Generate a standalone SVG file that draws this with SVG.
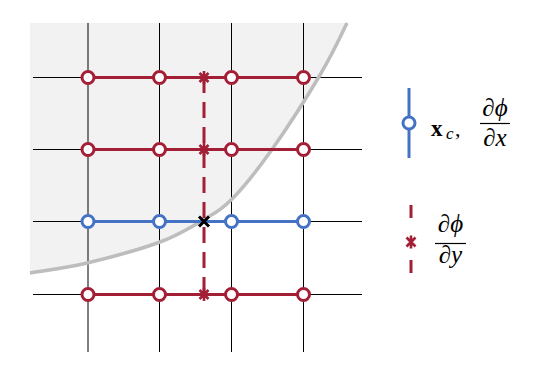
<svg xmlns="http://www.w3.org/2000/svg" width="538" height="378" viewBox="0 0 538 378">
<style>
.grid{stroke:#000;stroke-width:1;fill:none}
.red{stroke:#A31F36;stroke-width:3;fill:none}
.blue{stroke:#4472C4;stroke-width:3;fill:none}
.cr{stroke:#A31F36;stroke-width:3;fill:#fff}
.cb{stroke:#4472C4;stroke-width:3;fill:#fff}
.ast{stroke:#A31F36;stroke-width:2.6;fill:none}
.tx{font-family:"Liberation Serif","DejaVu Serif",serif;fill:#000}
</style>
<defs>
<g id="star"><path class="ast" d="M-4.5,-4.5L4.5,4.5M4.5,-4.5L-4.5,4.5M0,-6.5L0,6.5"/></g>
</defs>
<g id="region">
<path d="M30,273 C39.5,271.3 65.3,268.2 87,263 C108.7,257.8 140.7,249.2 160,242 C179.3,234.8 190.8,227.3 203,220 C215.2,212.7 221.3,210 233,198 C244.7,186 258.5,168.5 273,148 C287.5,127.5 307.7,95.7 320,75 C332.3,54.3 342.5,32.5 347,23 L30,23 Z" fill="#f2f2f2"/>
</g>
<g id="grid">
<path class="grid" d="M88,23V352M159.5,23V352M231.5,23V352M303.5,23V352M33,77.5H362M33,149.5H362M33,221.5H362M33,294.5H362"/>
</g>
<g id="boundary">
<path d="M30,273 C39.5,271.3 65.3,268.2 87,263 C108.7,257.8 140.7,249.2 160,242 C179.3,234.8 190.8,227.3 203,220 C215.2,212.7 221.3,210 233,198 C244.7,186 258.5,168.5 273,148 C287.5,127.5 307.7,95.7 320,75 C332.3,54.3 342.5,32.5 347,23" fill="none" stroke="#bdbdbd" stroke-width="3.5"/>
</g>
<g id="connectors">
<path class="red" d="M88,77.5H303.5M88,149.5H303.5M88,294.5H303.5"/>
<path class="blue" d="M88,221.5H303.5"/>
<path class="red" d="M204,77V294" stroke-dasharray="16 9"/>
</g>
<g id="row1">
<circle class="cr" cx="88" cy="77.5" r="6"/><circle class="cr" cx="159.5" cy="77.5" r="6"/><circle class="cr" cx="231.5" cy="77.5" r="6"/><circle class="cr" cx="303.5" cy="77.5" r="6"/>
<use href="#star" x="204" y="77.5"/>
</g>
<g id="row2">
<circle class="cr" cx="88" cy="149.5" r="6"/><circle class="cr" cx="159.5" cy="149.5" r="6"/><circle class="cr" cx="231.5" cy="149.5" r="6"/><circle class="cr" cx="303.5" cy="149.5" r="6"/>
<use href="#star" x="204" y="149.5"/>
</g>
<g id="row3">
<circle class="cb" cx="88" cy="221.5" r="6"/><circle class="cb" cx="159.5" cy="221.5" r="6"/><circle class="cb" cx="231.5" cy="221.5" r="6"/><circle class="cb" cx="303.5" cy="221.5" r="6"/>
<path d="M199,216.5L209,226.5M209,216.5L199,226.5" stroke="#000" stroke-width="3"/>
</g>
<g id="row4">
<circle class="cr" cx="88" cy="294.5" r="6"/><circle class="cr" cx="159.5" cy="294.5" r="6"/><circle class="cr" cx="231.5" cy="294.5" r="6"/><circle class="cr" cx="303.5" cy="294.5" r="6"/>
<use href="#star" x="204" y="294.5"/>
</g>
<g id="legend-x">
<path class="blue" d="M409,88V158"/>
<circle class="cb" cx="409" cy="123" r="6"/>
<text class="tx" x="431" y="136" font-size="23" font-weight="bold">x</text>
<text class="tx" x="446" y="139" font-size="17" font-style="italic">c</text>
<text class="tx" x="455" y="136" font-size="22">,</text>
<text class="tx" x="495" y="116" font-size="25" font-style="italic" text-anchor="middle">∂ϕ</text>
<path d="M480,123.5H510" stroke="#000" stroke-width="1.2"/>
<text class="tx" x="495" y="146" font-size="25" font-style="italic" text-anchor="middle">∂x</text>
</g>
<g id="legend-y">
<path class="red" d="M411,205V218M411,260V273"/>
<use href="#star" x="411" y="242"/>
<text class="tx" x="450.5" y="232" font-size="25" font-style="italic" text-anchor="middle">∂ϕ</text>
<path d="M435,243.5H466" stroke="#000" stroke-width="1.2"/>
<text class="tx" x="450.5" y="263" font-size="25" font-style="italic" text-anchor="middle">∂y</text>
</g>
</svg>
